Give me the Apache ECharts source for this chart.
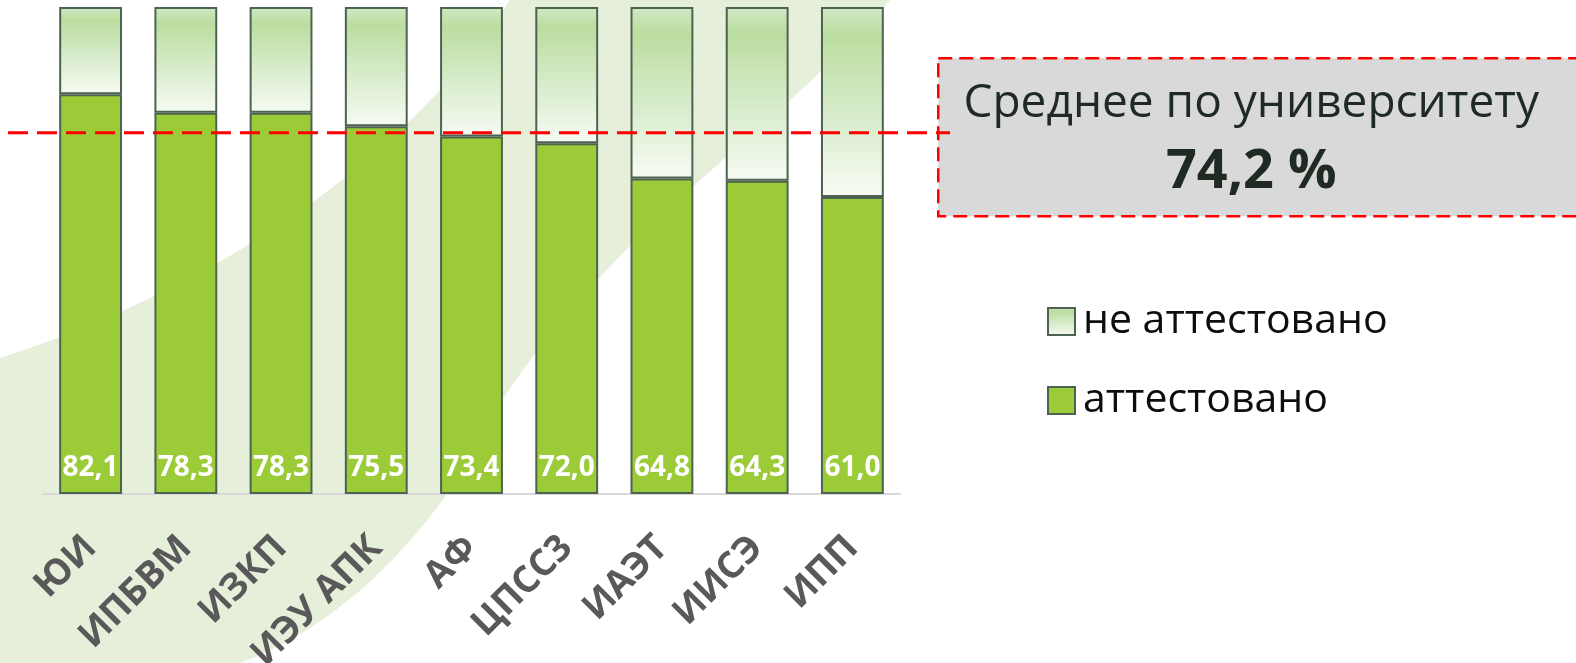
<!DOCTYPE html>
<html>
<head>
<meta charset="utf-8">
<script src="https://cdn.jsdelivr.net/npm/echarts@6/dist/echarts.min.js"></script>
<style>
  html, body { margin: 0; padding: 0; background: #fff; }
  #chart { width: 1576px; height: 663px; }
</style>
</head>
<body>
<div id="chart"></div>
<script>
// институты
var categories = ['ЮИ', 'ИПБВМ', 'ИЗКП', 'ИЭУ АПК', 'АФ', 'ЦПСС3', 'ИАЭТ', 'ИИСЭ', 'ИПП'];
// аттестовано, %
var attested = [82.1, 78.3, 78.3, 75.5, 73.4, 72.0, 64.8, 64.3, 61.0];
// не аттестовано, %
var notAttested = [17.9, 21.7, 21.7, 24.5, 26.6, 28.0, 35.2, 35.7, 39.0];
// среднее по университету
var universityMean = 74.2;

var fmt = function (v) { return v.toFixed(1).replace('.', ','); };

// фон: контур волны из кубических кривых
function bezier(p0, p1, p2, p3, n) {
    var pts = [];
    for (var i = 0; i <= n; i++) {
        var t = i / n, u = 1 - t;
        pts.push([
            u*u*u*p0[0] + 3*u*u*t*p1[0] + 3*u*t*t*p2[0] + t*t*t*p3[0],
            u*u*u*p0[1] + 3*u*u*t*p1[1] + 3*u*t*t*p2[1] + t*t*t*p3[1]
        ]);
    }
    return pts;
}
var swoosh = []
    .concat(bezier([0, 358], [150, 310], [380, 200], [510, 0], 30))
    .concat(bezier([890, 0], [760, 150], [570, 250], [450, 490], 30))
    .concat(bezier([450, 490], [400, 560], [330, 630], [240, 663], 20))
    .concat([[0, 663]]);

var chart = echarts.init(document.getElementById('chart'));

var borderColor = '#4d6352';
var topGradient = {
    type: 'linear', x: 0, y: 0, x2: 0, y2: 1,
    colorStops: [
        { offset: 0, color: '#d0e9c6' },
        { offset: 0.15, color: '#bbdd9f' },
        { offset: 0.55, color: '#d6ebc9' },
        { offset: 1, color: '#f7fbf3' }
    ]
};

var option = {
    backgroundColor: '#ffffff',
    animation: false,
    textStyle: { fontFamily: 'Open Sans' },
    graphic: [
        {
            type: 'polygon',
            silent: true,
            z: -10,
            shape: { points: swoosh },
            style: { fill: '#e5efd9' }
        },
        {
            type: 'group',
            left: 937,
            top: 57,
            z: 5,
            children: [
                {
                    type: 'rect',
                    shape: { x: 0, y: 0, width: 660, height: 158 },
                    style: {
                        fill: '#d9d9d9',
                        stroke: '#ff0000',
                        lineWidth: 2.5,
                        lineDash: [14, 7]
                    }
                },
                {
                    type: 'text',
                    x: 313, y: 46,
                    style: {
                        text: 'Среднее по университету',
                        font: '46px "Open Sans"',
                        fill: '#1f2b22',
                        align: 'center',
                        verticalAlign: 'middle'
                    }
                },
                {
                    type: 'text',
                    x: 313, y: 114,
                    style: {
                        text: fmt(universityMean) + ' %',
                        font: 'bold 54px "Open Sans"',
                        fill: '#1f2b22',
                        align: 'center',
                        verticalAlign: 'middle'
                    }
                }
            ]
        }
    ],
    legend: {
        orient: 'vertical',
        left: 1042,
        top: 296,
        itemWidth: 27,
        itemHeight: 27,
        itemGap: 38,
        icon: 'rect',
        data: ['не аттестовано', 'аттестовано'],
        textStyle: { fontSize: 41, color: '#0d0d0d', fontFamily: 'Open Sans', padding: [0, 0, 0, 3] }
    },
    grid: [
        { left: 43, right: 676, top: 7, bottom: 169, outerBoundsMode: 'none' },
        { left: 8, right: 626, top: 7, bottom: 169, outerBoundsMode: 'none' }
    ],
    xAxis: [
        {
            type: 'category',
            gridIndex: 0,
            data: categories,
            axisTick: { show: false },
            axisLine: { lineStyle: { color: '#d9d9d9', width: 2 } },
            axisLabel: {
                rotate: 45,
                margin: 48,
                interval: 0,
                fontSize: 37,
                fontWeight: 'bold',
                color: '#595959',
                fontFamily: 'Open Sans'
            }
        },
        { type: 'value', gridIndex: 1, min: 0, max: 1, show: false }
    ],
    yAxis: [
        { type: 'value', gridIndex: 0, min: 0, max: 100, show: false },
        { type: 'value', gridIndex: 1, min: 0, max: 100, show: false }
    ],
    series: [
        {
            name: 'аттестовано',
            type: 'bar',
            stack: 'total',
            barWidth: '66%',
            data: attested,
            itemStyle: { color: '#9bcb37', borderColor: borderColor, borderWidth: 2 },
            label: {
                show: true,
                position: 'insideBottom',
                distance: 12,
                color: '#ffffff',
                fontSize: 28,
                fontWeight: 'bold',
                fontFamily: 'Open Sans',
                formatter: function (p) { return fmt(p.value); }
            }
        },
        {
            name: 'не аттестовано',
            type: 'bar',
            stack: 'total',
            barWidth: '66%',
            data: notAttested,
            itemStyle: { color: topGradient, borderColor: borderColor, borderWidth: 2 }
        },
        {   // линия среднего
            name: 'среднее',
            type: 'line',
            xAxisIndex: 1,
            yAxisIndex: 1,
            symbol: 'none',
            silent: true,
            z: 4,
            data: [[0, universityMean], [1, universityMean]],
            lineStyle: { color: '#ff0000', width: 3, type: [20, 9] }
        }
    ]
};

chart.setOption(option);
</script>
</body>
</html>
